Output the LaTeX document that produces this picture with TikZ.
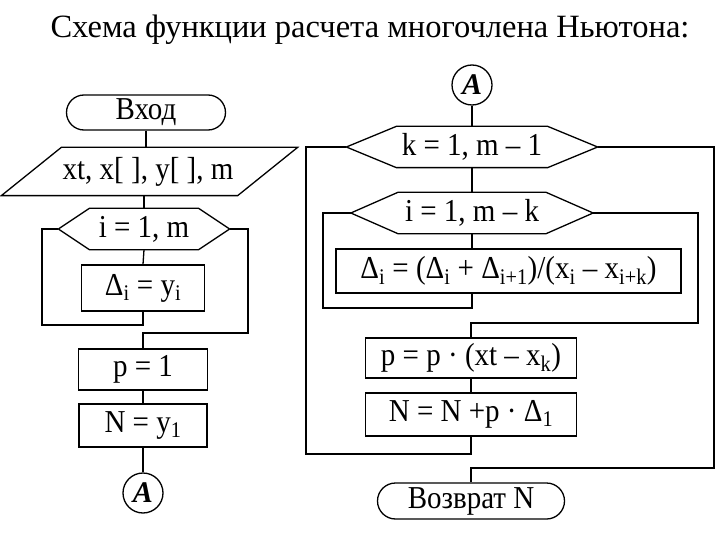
\documentclass[tikz,border=0pt]{standalone}
\usepackage{fontspec}
\usepackage{graphicx}
\setmainfont{Liberation Serif}
\usetikzlibrary{shapes.misc}
\newcommand{\sbs}[1]{\textsubscript{#1}}
\newcommand{\vst}[1]{\scalebox{1}[1.1]{#1}}
\begin{document}
\begin{tikzpicture}[x=1pt,y=-1pt,line width=1.3pt,
  every node/.style={inner sep=0pt,font=\fontsize{29}{34}\selectfont},
  box/.style 2 args={draw,rectangle,minimum width=#1pt,minimum height=#2pt},
  term/.style 2 args={draw,rounded rectangle,minimum width=#1pt,minimum height=#2pt},
  ghost/.style 2 args={rectangle,minimum width=#1pt,minimum height=#2pt},
  conn/.style={draw,circle,minimum size=40pt,font=\fontsize{30}{34}\selectfont\bfseries\itshape}]
\useasboundingbox (0,0) rectangle (720,540);
% title
\node[font=\fontsize{32.5}{38}\selectfont,anchor=base] (title) at (370,38) {Схема функции расчета многочлена Ньютона:};
% left column
\node[term={159}{35}] (in) at (146,112.5) {\vst{Вход}};
\node[ghost={295}{47}] (par) at (149.5,171.5) {};
\node at (148,172) (partxt) {\vst{xt, x[ ], y[ ], m}};
\draw ([xshift=60pt]par.north west) -- (par.north east) -- ([xshift=-60pt]par.south east) -- (par.south west) -- cycle;
\node[ghost={170}{40}] (h1) at (144,229) {\vst{i = 1, m}};
\draw (h1.west) -- ([xshift=31pt]h1.north west) -- ([xshift=-31pt]h1.north east) -- (h1.east) -- ([xshift=-31pt]h1.south east) -- ([xshift=31pt]h1.south west) -- cycle;
\node[box={123}{46}] (d1) at (143,288) {\vst{Δ\sbs{i} = y\sbs{i}}};
\node[box={129}{41}] (p1) at (143,369.5) {\vst{p = 1}};
\node[box={128}{43}] (N1) at (143,425.5) {\vst{N = y\sbs{1}}};
\node[conn] (A1) at (143,493) {A};
\draw (in.south) -- (in.south |- par.north);
\draw (h1.north |- par.south) -- (h1.north);
\draw (h1.south) -- (d1.north);
\draw (h1.west) -| (42,325) -| (d1.south);
\draw (h1.east) -| (248,333) -| (p1.north);
\draw (p1.south) -- (N1.north);
\draw (N1.south) -- (A1.north);
% right column
\node[conn] (A2) at (472,85) {A};
\node[ghost={250}{40}] (h2) at (472,147) {\vst{k = 1, m – 1}};
\draw (h2.west) -- ([xshift=50pt]h2.north west) -- ([xshift=-50pt]h2.north east) -- (h2.east) -- ([xshift=-50pt]h2.south east) -- ([xshift=50pt]h2.south west) -- cycle;
\node[ghost={241}{40}] (h3) at (472,213) {\vst{i = 1, m – k}};
\draw (h3.west) -- ([xshift=47pt]h3.north west) -- ([xshift=-47pt]h3.north east) -- (h3.east) -- ([xshift=-47pt]h3.south east) -- ([xshift=47pt]h3.south west) -- cycle;
\node[box={345}{44}] (D) at (508.5,271) {\vst{Δ\sbs{i} = (Δ\sbs{i} + Δ\sbs{i+1})/(x\sbs{i} – x\sbs{i+k})}};
\node[box={211}{40}] (p2) at (471,358) {\vst{p = p · (xt – x\sbs{k})}};
\node[box={211}{43}] (N2) at (471,414.5) {\vst{N = N +p · Δ\sbs{1}}};
\node[term={187}{36}] (ret) at (471,501) {\vst{Возврат N}};
\draw (A2.south) -- (h2.north);
\draw (h2.south) -- (h3.north);
\draw (h3.south) -- (h3.south |- D.north);
\draw (h3.west) -| (323,308) -| (h3.south |- D.south);
\draw (h3.east) -| (698,323) -| (p2.north);
\draw (p2.south) -- (N2.north);
\draw (h2.west) -| (306,454) -| (N2.south);
\draw (h2.east) -| (714,468) -| (ret.north);
\end{tikzpicture}
\end{document}
